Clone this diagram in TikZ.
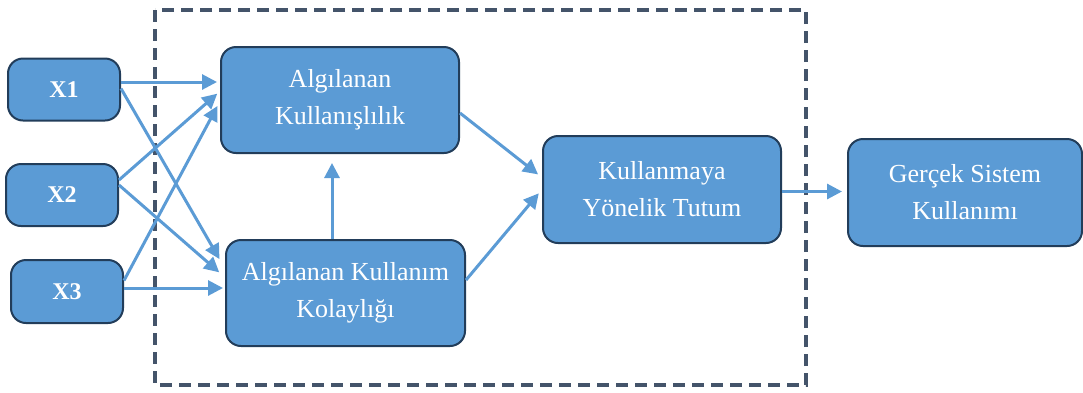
\documentclass[tikz,border=0pt]{standalone}
\usepackage{fontspec}
\setmainfont{Liberation Serif}
\usetikzlibrary{arrows.meta}
\definecolor{boxfill}{HTML}{5B9BD5}
\definecolor{boxline}{HTML}{223D5A}
\definecolor{frameline}{HTML}{44546A}
\begin{document}
\begin{tikzpicture}[x=1pt,y=-1pt,
  box/.style={draw=boxline, line width=2pt, fill=boxfill, rounded corners=15pt,
    text=white, align=center, inner sep=0pt, font=\fontsize{26}{37}\selectfont},
  xbox/.style={box, font=\fontsize{24}{28}\selectfont\bfseries},
  link/.style={draw=boxfill, line width=3pt,
    -{Triangle[length=15pt,width=15pt]}, shorten >=1pt}]
\useasboundingbox (0,0) rectangle (1083,392);
% dashed frame around the inner model
\draw[frameline, line width=4pt, dash pattern=on 12pt off 7pt] (155,10) rectangle (806,385);
% input boxes
\node[xbox, minimum width=112pt, minimum height=62pt] (x1) at (64,89.5) {X1};
\node[xbox, minimum width=112pt, minimum height=62pt] (x2) at (62,195) {X2};
\node[xbox, minimum width=112pt, minimum height=63pt] (x3) at (67,291.5) {X3};
% model constructs
\node[box, minimum width=238pt, minimum height=106pt] (ak) at (340,100) {Algılanan\\Kullanışlılık};
\node[box, minimum width=239pt, minimum height=106pt] (akk) at (345.5,293) {Algılanan Kullanım\\Kolaylığı};
\node[box, minimum width=238pt, minimum height=107pt] (kyt) at (662,189.5) {Kullanmaya\\Yönelik Tutum};
\node[box, minimum width=234pt, minimum height=107pt] (gsk) at (965,192.5) {Gerçek Sistem\\Kullanımı};
% arrow end points on the left sides of the two constructs
\coordinate (akin1) at ([xshift=-2pt,yshift=18pt]ak.west);
\coordinate (akin2) at ([xshift=-2pt,yshift=7pt]ak.west);
\coordinate (akin3) at ([xshift=-2pt,yshift=-5pt]ak.west);
\coordinate (akkin1) at ([xshift=-5pt,yshift=33pt]akk.west);
\coordinate (akkin2) at ([xshift=-5pt,yshift=20pt]akk.west);
\coordinate (akkin3) at ([xshift=-1pt,yshift=5pt]akk.west);
\coordinate (kytout) at ([yshift=-2pt]kyt.east);
\coordinate (upline) at (332,200);
% connectors
\draw[link] (x1.east |- akin1) -- (akin1);
\draw[link] ([yshift=1pt]x1.east) -- (akkin1);
\draw[link] ([yshift=15pt]x2.east) -- (akin2);
\draw[link] ([yshift=10pt]x2.east) -- (akkin2);
\draw[link] ([yshift=11pt]x3.east) -- (akin3);
\draw[link] (x3.east |- akkin3) -- (akkin3);
\draw[link, shorten >=9pt] (akk.north -| upline) -- (ak.south -| upline);
\draw[link, shorten >=5pt] ([yshift=-13pt]ak.east) -- ([yshift=12pt]kyt.west);
\draw[link, shorten >=5pt] ([yshift=13pt]akk.east) -- (kyt.west);
\draw[link, shorten >=5pt] (kytout) -- (gsk.west |- kytout);
\end{tikzpicture}
\end{document}
